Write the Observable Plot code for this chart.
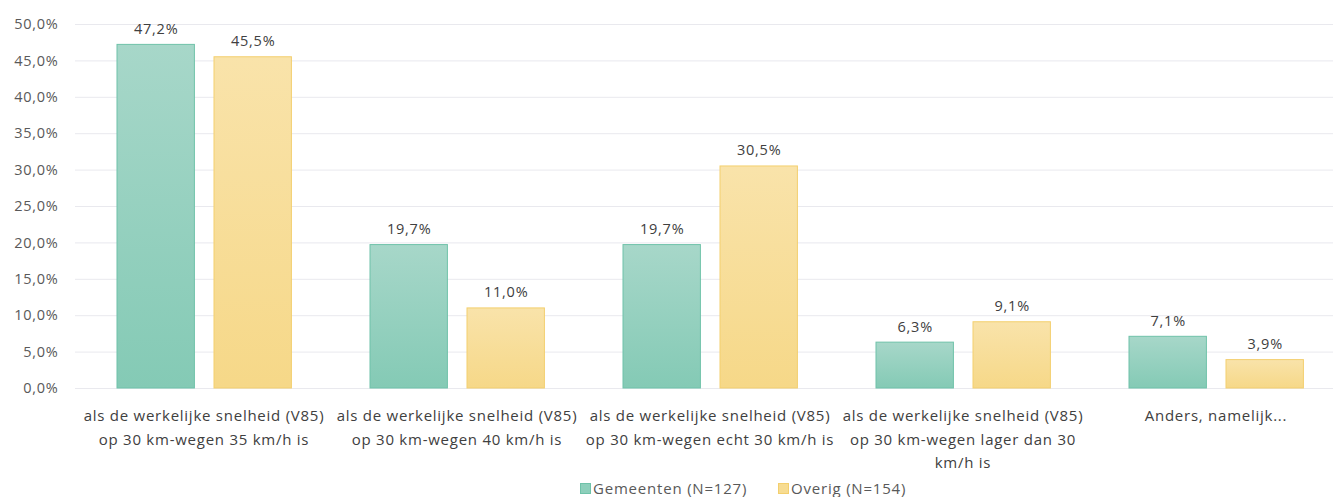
<!DOCTYPE html>
<html>
<head>
<meta charset="utf-8">
<script src="https://cdn.jsdelivr.net/npm/d3@7"></script>
<script src="https://cdn.jsdelivr.net/npm/@observablehq/plot@0.6"></script>
<style>
  html, body { margin: 0; padding: 0; background: #fff; }
  body { width: 1333px; height: 497px; overflow: hidden; font-family: "Open Sans", sans-serif; }
  svg text { letter-spacing: 0.75px; }
  #legend { position: relative; height: 20px; font-size: 15px; letter-spacing: 0.8px; color: #595959; }
  .item { position: absolute; top: 1px; display: flex; align-items: center; white-space: nowrap; }
  .sw { width: 11px; height: 11px; margin-right: 2px; box-sizing: border-box; }
</style>
</head>
<body>
<div id="chart"></div>
<div id="legend"></div>
<script>
const categories = [
  "als de werkelijke snelheid (V85)\nop 30 km-wegen 35 km/h is",
  "als de werkelijke snelheid (V85)\nop 30 km-wegen 40 km/h is",
  "als de werkelijke snelheid (V85)\nop 30 km-wegen echt 30 km/h is",
  "als de werkelijke snelheid (V85)\nop 30 km-wegen lager dan 30\nkm/h is",
  "Anders, namelijk..."
];
const seriesNames = ["Gemeenten (N=127)", "Overig (N=154)"];
const gemeenten = [47.2, 19.7, 19.7, 6.3, 7.1];
const overig = [45.5, 11.0, 30.5, 9.1, 3.9];
const yTicks = [0, 5, 10, 15, 20, 25, 30, 35, 40, 45, 50];

const fmt = d => d.toFixed(1).replace(".", ",") + "%";
const dataG = categories.map((c, i) => ({cat: c, value: gemeenten[i]}));
const dataO = categories.map((c, i) => ({cat: c, value: overig[i]}));

const xRange = [75, 1343];
const step = (xRange[1] - xRange[0]) / categories.length;
const gL = 40, gR = step - 118, oL = 137, oR = step - 215;
const gDx = (40 + 118) / 2 - step / 2, oDx = (137 + 215) / 2 - step / 2;

const defs = () => {
  const d = d3.create("svg:defs");
  const g1 = d.append("linearGradient").attr("id", "gradG").attr("x1", 0).attr("y1", 0).attr("x2", 0).attr("y2", 1);
  g1.append("stop").attr("offset", "0%").attr("stop-color", "#a7d7c9");
  g1.append("stop").attr("offset", "100%").attr("stop-color", "#84cab5");
  const g2 = d.append("linearGradient").attr("id", "gradO").attr("x1", 0).attr("y1", 0).attr("x2", 0).attr("y2", 1);
  g2.append("stop").attr("offset", "0%").attr("stop-color", "#f9e3aa");
  g2.append("stop").attr("offset", "100%").attr("stop-color", "#f6d888");
  return d.node();
};

const chart = Plot.plot({
  width: 1333,
  height: 477,
  marginTop: 24,
  marginBottom: 89,
  marginLeft: 75,
  marginRight: 0,
  style: { fontFamily: "'Open Sans', sans-serif", background: "#fff", overflow: "visible" },
  x: { domain: categories, range: xRange, padding: 0, axis: null },
  y: { domain: [0, 50], ticks: yTicks, axis: null },
  marks: [
    defs,
    Plot.ruleY(yTicks, { stroke: "#e9e9ee", strokeWidth: 1 }),
    Plot.axisY(yTicks, { tickSize: 0, tickPadding: 17, tickFormat: fmt, fontSize: 14.5, fill: "#595959", label: null }),
    Plot.barY(dataG, { x: "cat", y: "value", fill: "url(#gradG)", stroke: "#6fc2a9", strokeWidth: 1, insetLeft: gL, insetRight: gR }),
    Plot.barY(dataO, { x: "cat", y: "value", fill: "url(#gradO)", stroke: "#f3cf6e", strokeWidth: 1, insetLeft: oL, insetRight: oR }),
    Plot.text(dataG, { x: "cat", y: "value", text: d => fmt(d.value), dx: gDx, dy: -11, lineAnchor: "bottom", fontSize: 14.5, fill: "#404040" }),
    Plot.text(dataO, { x: "cat", y: "value", text: d => fmt(d.value), dx: oDx, dy: -11, lineAnchor: "bottom", fontSize: 14.5, fill: "#404040" }),
    Plot.text(categories, { x: d => d, y: 0, text: d => d, dy: 16, lineAnchor: "top", lineHeight: 1.57, fontSize: 15, fill: "#404040" })
  ]
});
document.getElementById("chart").appendChild(chart);

const colors = [{fill: "#8dcfbb", stroke: "#6fc2a9"}, {fill: "#f7dc92", stroke: "#f3cf6e"}];
const lefts = [580, 778];
const legend = document.getElementById("legend");
seriesNames.forEach((name, i) => {
  const item = document.createElement("div");
  item.className = "item";
  item.style.left = lefts[i] + "px";
  const sw = document.createElement("span");
  sw.className = "sw";
  sw.style.background = colors[i].fill;
  sw.style.border = "1px solid " + colors[i].stroke;
  const t = document.createElement("span");
  t.textContent = name;
  item.appendChild(sw);
  item.appendChild(t);
  legend.appendChild(item);
});
</script>
</body>
</html>
